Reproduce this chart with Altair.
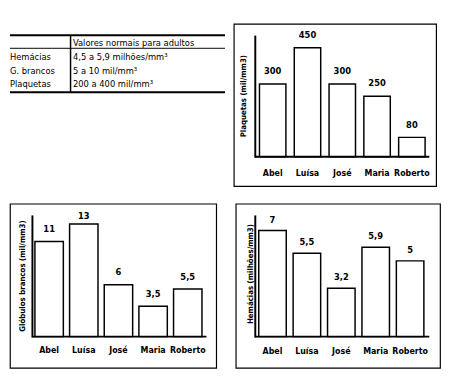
import altair as alt
import pandas as pd

# ---------------- data ----------------
names = ["Abel", "Luísa", "José", "Maria", "Roberto"]

plaquetas = [300, 450, 300, 250, 80]
plaquetas_txt = ["300", "450", "300", "250", "80"]

globulos = [11, 13, 6, 3.5, 5.5]
globulos_txt = ["11", "13", "6", "3,5", "5,5"]

hemacias = [7, 5.5, 3.2, 5.9, 5]
hemacias_txt = ["7", "5,5", "3,2", "5,9", "5"]

table_header = "Valores normais para adultos"
table_rows = ["Hemácias", "G. brancos", "Plaquetas"]
table_values = ["4,5 a 5,9 milhões/mm³", "5 a 10 mil/mm³", "200 a 400 mil/mm³"]

FONT = "'DejaVu Sans Condensed', 'Liberation Sans Narrow', 'Roboto', sans-serif"
one = pd.DataFrame({"k": [0]})


def bar_panel(values, labels, title, ymax, W, H, xrange, pin, pout,
              axis_x, axis_end, title_x, title_y, cat_y, dy, label_cap):
    df = pd.DataFrame({"nome": names, "valor": values, "rotulo": labels})
    x = alt.X("nome:N", sort=names, axis=None,
              scale=alt.Scale(range=xrange, paddingInner=pin, paddingOuter=pout))
    yscale = alt.Scale(domain=[0, ymax], range=[136, 12], nice=False, zero=True)
    y = alt.Y("valor:Q", axis=None, scale=yscale)
    base = alt.Chart(df)
    bars = base.mark_bar(fill="white", stroke="black", strokeWidth=1.5).encode(x=x, y=y)
    vals = base.transform_calculate(ly=f"min(datum.valor, {label_cap})").mark_text(
        font=FONT, fontWeight="bold", fontSize=9.5, baseline="middle", dy=dy
    ).encode(x=x, y=alt.Y("ly:Q", axis=None, scale=yscale), text="rotulo:N")
    cats = base.mark_text(font=FONT, fontWeight="bold", fontSize=9, baseline="middle").encode(
        x=x, y=alt.value(cat_y), text="nome:N")
    yaxis = alt.Chart(one).mark_rule(stroke="black", strokeWidth=2).encode(
        x=alt.value(axis_x), y=alt.value(12), y2=alt.value(137))
    xaxis = alt.Chart(one).mark_rule(stroke="black", strokeWidth=2).encode(
        x=alt.value(axis_x), x2=alt.value(axis_end), y=alt.value(136))
    ytitle = alt.Chart(pd.DataFrame({"t": [title]})).mark_text(
        font=FONT, fontWeight="bold", fontSize=8, angle=270, baseline="middle", align="center"
    ).encode(x=alt.value(title_x), y=alt.value(title_y), text="t:N")
    return alt.layer(bars, vals, cats, yaxis, xaxis, ytitle,
                     view=alt.ViewBackground(stroke="black", strokeWidth=1.2)
                     ).properties(width=W, height=H)


# ---------------- table ----------------
tdf = pd.DataFrame({"param": table_rows, "valor": table_values, "idx": [1, 2, 3]})
ty = alt.Y("idx:Q", axis=None, scale=alt.Scale(domain=[1, 3], range=[34.3, 62], nice=False, zero=False))
tbase = alt.Chart(tdf)
col1 = tbase.mark_text(font=FONT, fontSize=9.5, align="left", baseline="middle").encode(
    x=alt.value(0), y=ty, text="param:N")
col2 = tbase.mark_text(font=FONT, fontSize=9.5, align="left", baseline="middle").encode(
    x=alt.value(64.5), y=ty, text="valor:N")
head = alt.Chart(pd.DataFrame({"t": [table_header]})).mark_text(
    font=FONT, fontSize=9.5, align="left", baseline="middle").encode(
    x=alt.value(64.5), y=alt.value(19.3), text="t:N")
top_line = alt.Chart(one).mark_rule(stroke="black", strokeWidth=2).encode(
    x=alt.value(0), x2=alt.value(220), y=alt.value(11.7))
head_line = alt.Chart(one).mark_rule(stroke="black", strokeWidth=1).encode(
    x=alt.value(0), x2=alt.value(220), y=alt.value(25))
bot_line = alt.Chart(one).mark_rule(stroke="black", strokeWidth=2).encode(
    x=alt.value(0), x2=alt.value(220), y=alt.value(70))
vline = alt.Chart(one).mark_rule(stroke="black", strokeWidth=1.5).encode(
    x=alt.value(62), y=alt.value(11.7), y2=alt.value(70))
table = alt.layer(top_line, head_line, bot_line, vline, head, col1, col2,
                  view=alt.ViewBackground(stroke="transparent")
                  ).properties(width=220, height=166)

plaq = bar_panel(plaquetas, plaquetas_txt, "Plaquetas (mil/mm3)", 500, 207, 166,
                 [22, 200], 0.24, 0.12, 22, 200, 11, 74, 153, -13, 1000)
glob = bar_panel(globulos, globulos_txt, "Glóbulos brancos (mil/mm3)", 14, 211, 168,
                 [22, 200], 0.18, 0.10, 23, 201, 13.7, 74, 150, -12.5, 12.5)
hema = bar_panel(hemacias, hemacias_txt, "Hemácias (milhões/mm3)", 8, 209, 168,
                 [20, 196], 0.20, 0.10, 20, 198, 15.5, 72, 150.7, -11, 100)

row1 = alt.hconcat(table, plaq, spacing=6)
row2 = alt.hconcat(glob, hema, spacing=18)

chart = alt.vconcat(row1, row2, spacing=16).properties(
    padding={"left": 0, "top": 11, "right": 0, "bottom": 0},
    background="white",
).configure_view(strokeWidth=1.2)

chart.save("out.html", embed_options={"renderer": "svg", "actions": False})
